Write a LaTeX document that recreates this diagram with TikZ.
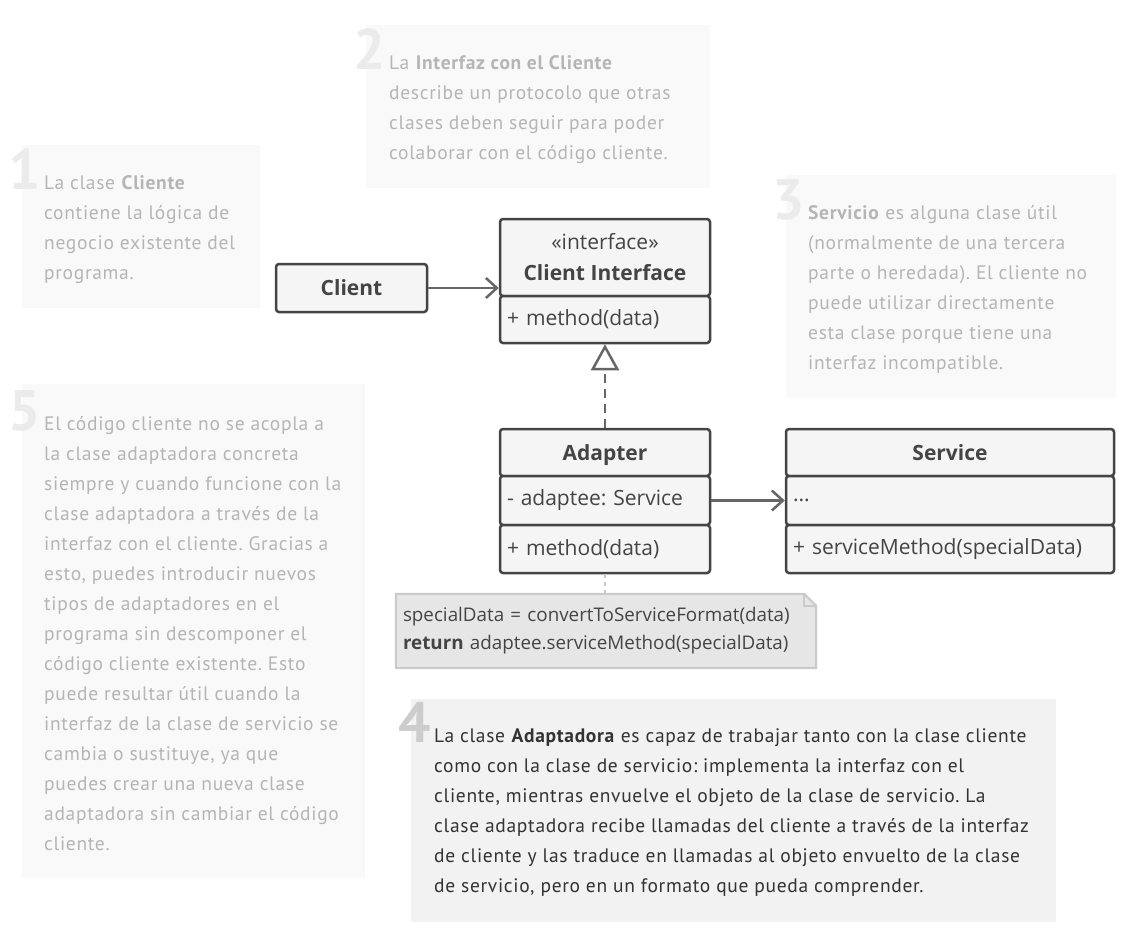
\documentclass[tikz,border=0pt]{standalone}
\usepackage{fontspec}
\setmainfont{PT Sans}[LetterSpace=3.5]
\newfontfamily\numfont{PT Sans}
\newfontfamily\umlfont{Open Sans}
\frenchspacing
\usepackage{tikz}
\usetikzlibrary{arrows.meta, positioning, calc}
\definecolor{fadetext}{HTML}{B5B5B5}
\definecolor{fadefill}{HTML}{F9F9F9}
\definecolor{fadenum}{HTML}{EBEBEB}
\definecolor{acttext}{HTML}{333333}
\definecolor{actfill}{HTML}{F2F2F2}
\definecolor{actnum}{HTML}{CCCCCC}
\definecolor{umlline}{HTML}{444444}
\definecolor{umlfill}{HTML}{F5F5F5}
\definecolor{arrowgray}{HTML}{666666}
\definecolor{codefill}{HTML}{E6E6E6}
\definecolor{codeline}{HTML}{CACACA}
\tikzstyle{fade} = [inner sep=0pt, anchor=base west, align=left, text=fadetext, font=\fontsize{19.5}{30}\selectfont]
\tikzstyle{act} = [fade, text=acttext]
\tikzstyle{num} = [inner sep=0pt, anchor=base east, text=fadenum, font=\numfont\bfseries\fontsize{57}{57}\selectfont]
\tikzstyle{cls} = [draw=umlline, fill=umlfill, line width=2.5pt, rounded corners=3pt, inner sep=0pt, text=umlline, font=\umlfont\fontsize{21}{31}\selectfont]
\tikzstyle{head} = [cls, align=center, font=\umlfont\bfseries\fontsize{21}{31}\selectfont]
\tikzstyle{memb} = [cls, align=left]
\tikzstyle{uses} = [draw=arrowgray, line width=2.5pt, -{Straight Barb[length=11pt,width=20pt]}]
\tikzstyle{impl} = [draw=arrowgray, line width=2.5pt, dash pattern=on 9pt off 6pt, -{Triangle[open,length=26pt,width=28pt,fill=white]}]
\tikzstyle{code} = [inner sep=0pt, text width=406pt, align=left, text=umlline, font=\umlfont\fontsize{18.8}{28}\selectfont]

\begin{document}
\begin{tikzpicture}[x=1pt, y=-1pt]
  \useasboundingbox (0,0) rectangle (1148,946);
  \fill[fadefill] (22,145) rectangle (260,308);
  \fill[fadefill] (366,25) rectangle (710,188);
  \fill[fadefill] (786,175) rectangle (1116,398);
  \fill[fadefill] (22,384) rectangle (365,878);
  \fill[actfill] (411,699) rectangle (1056,922);

  \node[num] (n1) at (41,189) {1};
  \node[fade] (N1) at (44,279) {La clase \textbf{Cliente}\\contiene la lógica de\\negocio existente del\\programa.};
  \node[num] (n2) at (386,69) {2};
  \node[fade] (N2) at (389,159) {La \textbf{Interfaz con el Cliente}\\describe un protocolo que otras\\clases deben seguir para poder\\colaborar con el código cliente.};
  \node[num] (n3) at (805,219) {3};
  \node[fade] (N3) at (808,369) {\textbf{Servicio} es alguna clase útil\\(normalmente de una tercera\\parte o heredada). El cliente no\\puede utilizar directamente\\esta clase porque tiene una\\interfaz incompatible.};
  \node[num] (n5) at (41,430) {5};
  \node[fade] (N5) at (44,850) {El código cliente no se acopla a\\la clase adaptadora concreta\\siempre y cuando funcione con la\\clase adaptadora a través de la\\interfaz con el cliente. Gracias a\\esto, puedes introducir nuevos\\tipos de adaptadores en el\\programa sin descomponer el\\código cliente existente. Esto\\puede resultar útil cuando la\\interfaz de la clase de servicio se\\cambia o sustituye, ya que\\puedes crear una nueva clase\\adaptadora sin cambiar el código\\cliente.};
  \node[num, text=actnum] (n4) at (431,742) {4};
  \node[act] (N4) at (434,892) {La clase \textbf{Adaptadora} es capaz de trabajar tanto con la clase cliente\\como con la clase de servicio: implementa la interfaz con el\\cliente, mientras envuelve el objeto de la clase de servicio. La\\clase adaptadora recibe llamadas del cliente a través de la interfaz\\de cliente y las traduce en llamadas al objeto envuelto de la clase\\de servicio, pero en un formato que pueda comprender.};

  \node[head, minimum width=151pt, minimum height=48pt] (C) at (351.5,288) {Client};
  \node[head, minimum width=210pt, minimum height=77pt] (I) at (605,257.5) {\mdseries«interface»\\Client Interface};
  \node[memb, minimum width=210pt, minimum height=47pt, text width=196pt] (II) at (605,319.5) {+ method(data)};
  \node[head, minimum width=210pt, minimum height=47pt, text depth=0pt] (A) at (605,452.5) {Adapter};
  \node[memb, minimum width=210pt, minimum height=49pt, text width=196pt] (AA) at (605,500.5) {- adaptee: Service};
  \node[memb, minimum width=210pt, minimum height=48pt, text width=196pt] (AAA) at (605,549) {+ method(data)};
  \node[head, minimum width=328pt, minimum height=47pt] (S) at (950,452.5) {Service};
  \node[memb, minimum width=328pt, minimum height=49pt, text width=314pt] (SS) at (950,500.5) {...};
  \node[memb, minimum width=328pt, minimum height=48pt, text width=314pt] (SSS) at (950,549) {+ serviceMethod(specialData)};

  \node[minimum width=420pt, minimum height=74pt, inner sep=0pt] (N) at (606,631) {};
  \draw[codeline, fill=codefill, line width=2pt] (N.north west) -- ($(N.north east)+(-12,0)$) -- ($(N.north east)+(0,12)$) -- (N.south east) -- (N.south west) -- cycle;
  \draw[codeline, line width=1.5pt] ($(N.north east)+(-12,0)$) -- ($(N.north east)+(-12,12)$) -- ($(N.north east)+(0,12)$);
  \node[code] (NN) at (N) {specialData = convertToServiceFormat(data)\\\textbf{return} adaptee.serviceMethod(specialData)};

  \draw[uses] (C) -- (C -| I.west);
  \draw[impl] (A.north) -- (II.south);
  \draw[uses] (AA) -- (AA -| SS.west);
  \draw[codeline, line width=2pt, dash pattern=on 4pt off 4pt] (AAA.south) -- (AAA.south |- N.north);
\end{tikzpicture}
\end{document}
